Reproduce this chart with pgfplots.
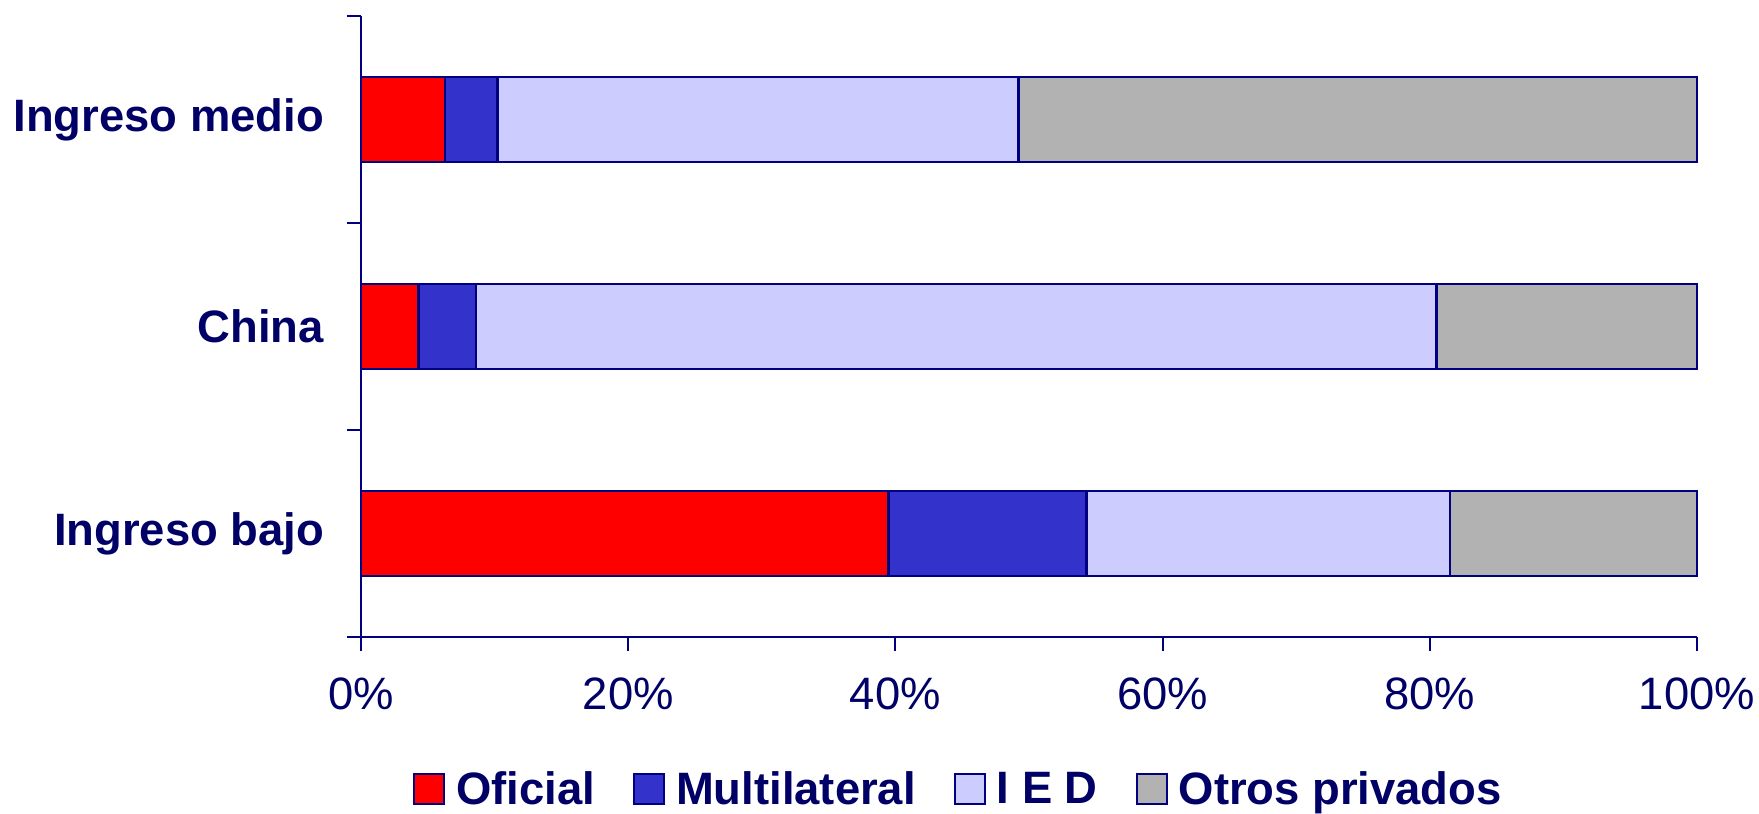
\documentclass[border=0pt]{standalone}
\usepackage{fontspec}
\setmainfont{Liberation Sans}
\usepackage{pgfplots}
\pgfplotsset{compat=1.18}
\definecolor{navy}{RGB}{0,0,102}
\definecolor{edge}{RGB}{0,0,128}
\definecolor{cOf}{RGB}{255,0,0}
\definecolor{cMu}{RGB}{51,51,204}
\definecolor{cIED}{RGB}{204,204,255}
\definecolor{cOt}{RGB}{178,178,178}
\begin{document}
\begin{tikzpicture}
\begin{axis}[
  at={(0,0)}, anchor=south west,
  scale only axis, width=668pt, height=310.5pt,
  xbar stacked, bar width=42.5pt,
  xmin=0, xmax=100, ymin=-0.5, ymax=2.5,
  xtick={0,20,40,60,80,100},
  xticklabels={0\%,20\%,40\%,60\%,80\%,100\%},
  ytick={-0.5,0.5,1.5,2.5},
  yticklabels={Ingreso bajo,China,Ingreso medio,},
  y tick label as interval,
  axis lines*=left,
  tick align=outside,
  major tick length=7pt,
  every tick/.style={edge, line width=1pt},
  axis line style={edge, line width=1pt},
  xticklabel style={font=\fontsize{22.7}{26}\selectfont, text=navy, yshift=-10pt},
  yticklabel style={font=\fontsize{22.7}{26}\selectfont\bfseries, text=navy, xshift=-8pt},
  legend columns=4,
  legend style={draw=none, at={(0.448,-0.245)}, anchor=center,
    font=\fontsize{22.7}{26}\selectfont\bfseries, text=navy,
    /tikz/every even column/.append style={column sep=17pt}},
  legend image code/.code={\draw[#1, line width=1pt] (0pt,-7.5pt) rectangle (15pt,7.5pt);
    \path[draw=none, fill=none] (0pt,0pt) -- (19pt,0pt);},
  clip=false,
]
\addplot[fill=cOf, draw=edge, line width=1.3pt] coordinates {(39.5,0) (4.3,1) (6.3,2)};
\addlegendentry{Oficial}
\addplot[fill=cMu, draw=edge, line width=1.3pt] coordinates {(14.8,0) (4.3,1) (3.9,2)};
\addlegendentry{Multilateral}
\addplot[fill=cIED, draw=edge, line width=1.3pt] coordinates {(27.2,0) (71.9,1) (39.0,2)};
\addlegendentry{I E D}
\addplot[fill=cOt, draw=edge, line width=1.3pt] coordinates {(18.5,0) (19.5,1) (50.8,2)};
\addlegendentry{Otros privados}
\end{axis}
\pgfresetboundingbox
\path[use as bounding box] (-180.5pt,-88pt) rectangle (699pt,318.5pt);
\end{tikzpicture}
\end{document}
